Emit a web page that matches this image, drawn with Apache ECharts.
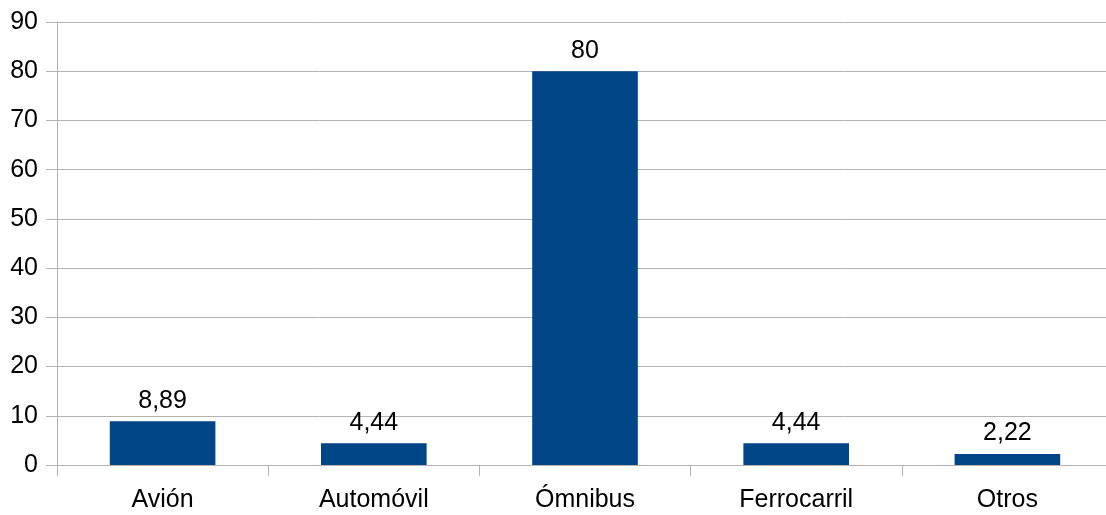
<!DOCTYPE html>
<html><head><meta charset="utf-8">
<script src="https://cdn.jsdelivr.net/npm/echarts@6/dist/echarts.min.js"></script>
<style>html,body{margin:0;padding:0;background:#fff}#c{width:1106px;height:515px}</style>
</head><body><div id="c"></div>
<script>
const categories = ['Avión', 'Automóvil', 'Ómnibus', 'Ferrocarril', 'Otros'];
const values = [8.89, 4.44, 80, 4.44, 2.22];
const labels = ['8,89', '4,44', '80', '4,44', '2,22'];
const chart = echarts.init(document.getElementById('c'), null, {renderer: 'canvas'});
const font = 'Liberation Sans, Arial, sans-serif';
chart.setOption({
  animation: false,
  backgroundColor: '#fff',
  grid: {left: 57, width: 1056, top: 22, bottom: 50, containLabel: false, outerBoundsMode: 'none'},
  xAxis: {
    type: 'category', data: categories,
    axisLine: {show: true, lineStyle: {color: '#b3b3b3', width: 1}},
    axisTick: {show: true, length: 11, lineStyle: {color: '#b3b3b3'}},
    axisLabel: {color: '#000', fontSize: 25, fontFamily: font, margin: 23}
  },
  yAxis: {
    type: 'value', min: 0, max: 90, interval: 10,
    axisLine: {show: true, lineStyle: {color: '#b3b3b3', width: 1}},
    axisTick: {show: true, length: 11, lineStyle: {color: '#b3b3b3'}},
    splitLine: {show: true, lineStyle: {color: '#b3b3b3', width: 1}},
    axisLabel: {color: '#000', fontSize: 25, fontFamily: font, margin: 19}
  },
  series: [{
    type: 'bar', data: values, barWidth: '50%',
    itemStyle: {color: '#004586'},
    label: {show: true, position: 'top', distance: 8, color: '#000', fontSize: 25, fontFamily: font,
      formatter: p => labels[p.dataIndex]}
  }]
});
</script></body></html>
